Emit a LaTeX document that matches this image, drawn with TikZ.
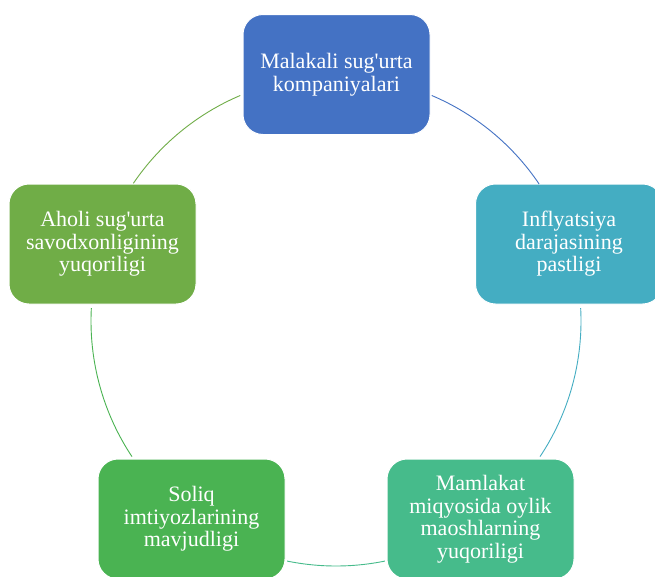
\documentclass[tikz,border=0pt]{standalone}
\usepackage{fontspec}
\setmainfont{Liberation Serif}
\definecolor{cA}{HTML}{4472C4}
\definecolor{cB}{HTML}{44ADC2}
\definecolor{cC}{HTML}{46BB8B}
\definecolor{cD}{HTML}{4AB352}
\definecolor{cE}{HTML}{70AD47}
\tikzset{
  box/.style={draw=white, line width=1pt, rounded corners=20pt, minimum width=187pt, minimum height=120pt,
    text=white, align=center, inner sep=0pt, font=\fontsize{22}{22.5}\selectfont},
  ring/.style={line width=0.9pt}
}
\begin{document}
\begin{tikzpicture}[x=1pt,y=-1pt]
\useasboundingbox (0,0) rectangle (655,576);
\clip (0,0) rectangle (655,576);
\fill[white] (0,0) rectangle (655,576);
\coordinate (c) at (336,321);
\node[box, fill=cA] (n1) at (336.5,74.5) {Malakali sug\textquotesingle urta\\kompaniyalari};
\node[box, fill=cB] (n2) at (569,244) {Inflyatsiya\\darajasining\\pastligi};
\node[box, fill=cC] (n3) at (480.5,519) {Mamlakat\\miqyosida oylik\\maoshlarning\\yuqoriligi};
\node[box, fill=cD] (n4) at (191.5,519) {Soliq\\imtiyozlarining\\mavjudligi};
\node[box, fill=cE] (n5) at (102.5,244) {Aholi sug\textquotesingle urta\\savodxonligining\\yuqoriligi};
\draw[ring, cA] ([shift={(-67:245)}]c) arc[start angle=-67, end angle=-34, radius=245];
\draw[ring, cB] ([shift={(-3:245)}]c) arc[start angle=-3, end angle=33.6, radius=245];
\draw[ring, cC] ([shift={(78.5:245)}]c) arc[start angle=78.5, end angle=101.5, radius=245];
\draw[ring, cD] ([shift={(146.4:245)}]c) arc[start angle=146.4, end angle=183, radius=245];
\draw[ring, cE] ([shift={(214.2:245)}]c) arc[start angle=214.2, end angle=247, radius=245];
\end{tikzpicture}
\end{document}
